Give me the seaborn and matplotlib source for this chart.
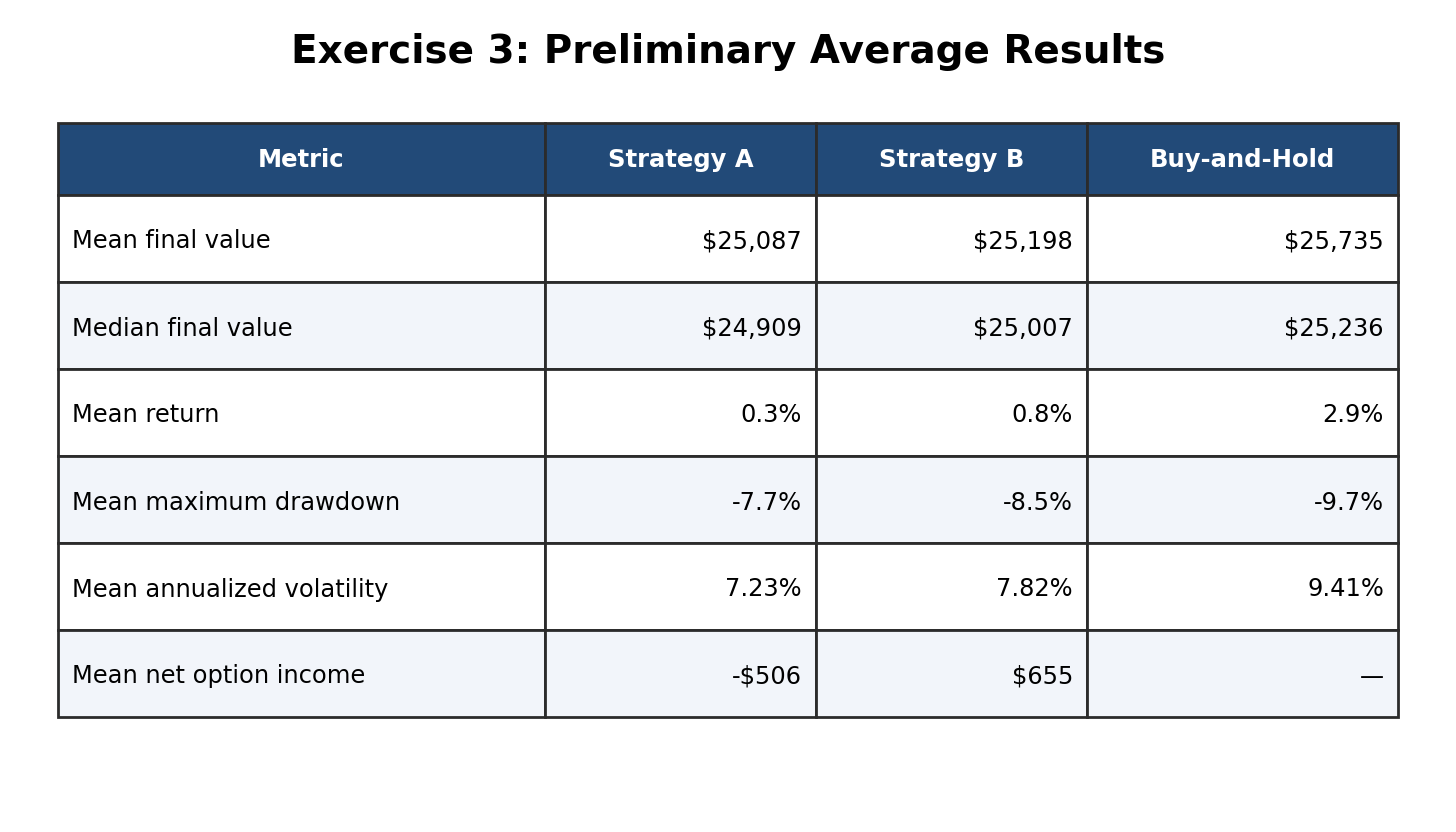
import matplotlib.pyplot as plt
from matplotlib.patches import Rectangle
import seaborn as sns

sns.set_theme(style="white")
plt.rcParams["font.family"] = ["DejaVu Sans"]

# Data
headers = ["Metric", "Strategy A", "Strategy B", "Buy-and-Hold"]
metrics = ["Mean final value", "Median final value", "Mean return",
           "Mean maximum drawdown", "Mean annualized volatility",
           "Mean net option income"]
strategy_a = ["$25,087", "$24,909", "0.3%", "-7.7%", "7.23%", "-$506"]
strategy_b = ["$25,198", "$25,007", "0.8%", "-8.5%", "7.82%", "$655"]
buy_hold = ["$25,735", "$25,236", "2.9%", "-9.7%", "9.41%", "—"]

# Layout in pixels
col_w = [487, 271, 271, 311]
x0, y0 = 58, 123
head_h, row_h = 72, 87
header_color = "#224a78"
stripe = "#f2f5fa"
edge = "#2b2b2b"

fig = plt.figure(figsize=(14.56, 8.32), dpi=100)
ax = fig.add_axes([0, 0, 1, 1])
ax.set_xlim(0, 1456)
ax.set_ylim(832, 0)
ax.axis("off")

ax.text(728, 52, "Exercise 3: Preliminary Average Results", ha="center",
        va="center", fontsize=28, fontweight="bold", color="black")

xs = [x0]
for w in col_w:
    xs.append(xs[-1] + w)

# header
for j, h in enumerate(headers):
    ax.add_patch(Rectangle((xs[j], y0), col_w[j], head_h, facecolor=header_color,
                           edgecolor=edge, lw=2))
    ax.text(xs[j] + col_w[j] / 2, y0 + head_h / 2 + 1, h, ha="center", va="center",
            fontsize=17.5, fontweight="bold", color="white")

rows = list(zip(metrics, strategy_a, strategy_b, buy_hold))
for i, row in enumerate(rows):
    top = y0 + head_h + i * row_h
    fc = "white" if i % 2 == 0 else stripe
    for j, val in enumerate(row):
        ax.add_patch(Rectangle((xs[j], top), col_w[j], row_h, facecolor=fc,
                               edgecolor=edge, lw=2))
        if j == 0:
            ax.text(xs[j] + 14, top + row_h / 2 + 3, val, ha="left", va="center",
                    fontsize=17.4, color="black")
        else:
            ax.text(xs[j + 1] - 14, top + row_h / 2 + 3, val, ha="right",
                    va="center", fontsize=17.4, color="black")

plt.savefig("out.png", dpi=100)
